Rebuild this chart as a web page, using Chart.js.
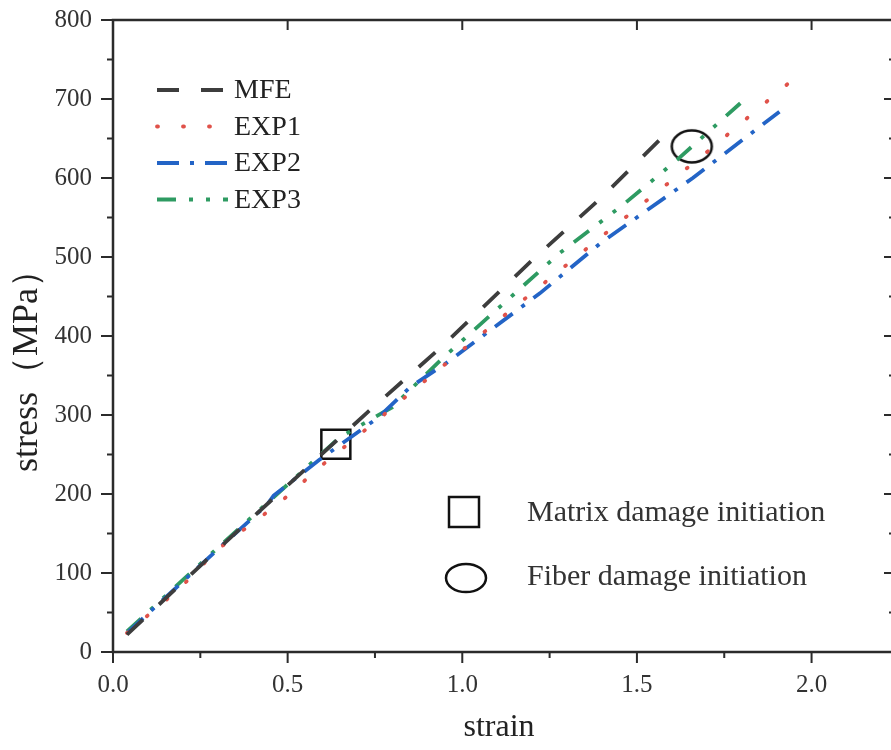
<!DOCTYPE html>
<html>
<head>
<meta charset="utf-8">
<script src="https://cdn.jsdelivr.net/npm/chart.js@4.4.1/dist/chart.umd.min.js"></script>
<style>
  html, body { margin: 0; padding: 0; background: #fff; overflow: hidden; }
  #wrap { position: relative; width: 895px; height: 750px; }
</style>
</head>
<body>
<div id="wrap"><canvas id="stressChart" width="895" height="750"></canvas></div>
<script>
// values: strain (x) and stress in MPa (y)
const mfeStrain = [0.04, 0.30, 0.73, 0.94, 1.20, 1.40, 1.585];
const mfeStress = [22, 130, 304, 386, 496, 576, 657];

const exp1Strain = [0.04, 0.19, 0.30, 0.48, 0.60, 0.78, 1.145, 1.385, 1.69, 1.934];
const exp1Stress = [24, 80, 130, 190, 237, 302, 435, 521, 629, 720];

const exp2Strain = [0.04, 0.30, 0.44, 0.46, 0.59, 0.76, 0.85, 0.955, 1.222, 1.40, 1.66, 1.908];
const exp2Stress = [24, 130, 186, 198, 243, 297, 335, 366, 454, 519, 600, 684];

const exp3Strain = [0.04, 0.30, 0.45, 0.65, 0.80, 0.944, 1.279, 1.46, 1.615, 1.797];
const exp3Stress = [26, 132, 192, 272, 310, 372, 505, 566, 623, 695];

// damage initiation markers [strain, stress]
const matrixDamage = [0.638, 263];
const fiberDamage = [1.657, 640];

const seriesNames = ['MFE', 'EXP1', 'EXP2', 'EXP3'];
const markerNames = ['Matrix damage initiation', 'Fiber damage initiation'];
const xTickValues = [0, 0.5, 1.0, 1.5, 2.0];
const yTickValues = [0, 100, 200, 300, 400, 500, 600, 700, 800];
const xTitle = 'strain';
const yTitle = 'stress（MPa）';

const FONT = '"Liberation Serif", "Times New Roman", serif';
const AXIS_COLOR = '#2b2b2b';

function toPoints(xs, ys) {
    return xs.map(function (x, i) { return { x: x, y: ys[i] }; });
}

// open ellipse used as the point style of the fiber damage marker
function ellipseMarker(w, h, lw) {
    const c = document.createElement('canvas');
    c.width = w + lw * 2;
    c.height = h + lw * 2;
    const g = c.getContext('2d');
    g.strokeStyle = '#111';
    g.lineWidth = lw;
    g.beginPath();
    g.ellipse(c.width / 2, c.height / 2, w / 2, h / 2, 0, 0, Math.PI * 2);
    g.stroke();
    return c;
}

function lineSeries(label, xs, ys, color, dash, cap) {
    return {
        label: label,
        data: toPoints(xs, ys),
        showLine: true,
        borderColor: color,
        backgroundColor: color,
        borderWidth: 3.8,
        borderDash: dash,
        borderCapStyle: cap || 'butt',
        pointRadius: 0,
        fill: false,
        tension: 0
    };
}

// frame, minor ticks, axis titles and the in-plot legends
const framePlugin = {
    id: 'frame',
    afterDraw: function (chart) {
        const ctx = chart.ctx;
        const a = chart.chartArea;
        const xs = chart.scales.x;
        const ys = chart.scales.y;

        ctx.save();
        ctx.strokeStyle = AXIS_COLOR;
        ctx.lineWidth = 2.5;
        ctx.strokeRect(a.left, a.top, a.right - a.left, a.bottom - a.top);

        ctx.lineWidth = 2;
        ctx.beginPath();
        for (let v = 0; v <= 800; v += 50) {
            const y = ys.getPixelForValue(v);
            const major = v % 100 === 0;
            ctx.moveTo(a.left, y);
            ctx.lineTo(a.left - (major ? 12 : 6), y);
            ctx.moveTo(a.right, y);
            ctx.lineTo(a.right - (major ? 10 : 5), y);
        }
        for (let v = 0; v <= 2.2; v += 0.25) {
            const x = xs.getPixelForValue(v);
            const major = Math.abs(v * 2 - Math.round(v * 2)) < 1e-6;
            ctx.moveTo(x, a.bottom);
            ctx.lineTo(x, a.bottom + (major ? 11 : 6));
            if (major) {
                ctx.moveTo(x, a.top);
                ctx.lineTo(x, a.top + 10);
            }
        }
        ctx.stroke();

        // axis titles
        ctx.fillStyle = '#222';
        ctx.textAlign = 'center';
        ctx.textBaseline = 'middle';
        ctx.font = '32px ' + FONT;
        ctx.fillText(xTitle, 499, 728);
        ctx.save();
        ctx.translate(28, 362);
        ctx.rotate(-Math.PI / 2);
        ctx.font = '36px ' + FONT;
        ctx.fillText(yTitle, 0, 0);
        ctx.restore();

        // series legend, top left
        ctx.font = '28px ' + FONT;
        ctx.textAlign = 'left';
        for (let i = 0; i < 4; i++) {
            const ds = chart.data.datasets[i];
            const y = a.top + 70 + i * 36.5;
            ctx.save();
            ctx.strokeStyle = ds.borderColor;
            ctx.lineWidth = ds.borderWidth;
            ctx.lineCap = ds.borderCapStyle;
            ctx.setLineDash(ds.borderDash);
            ctx.beginPath();
            ctx.moveTo(a.left + 44, y);
            ctx.lineTo(a.left + 115, y);
            ctx.stroke();
            ctx.restore();
            ctx.fillStyle = '#222';
            ctx.fillText(ds.label, a.left + 121, y + 1);
        }

        // damage marker legend
        ctx.strokeStyle = '#111';
        ctx.lineWidth = 2.5;
        ctx.strokeRect(a.left + 336, 497, 30, 30);
        ctx.beginPath();
        ctx.ellipse(a.left + 353, 578, 20, 14, 0, 0, Math.PI * 2);
        ctx.stroke();
        ctx.fillStyle = '#333';
        ctx.font = '30px ' + FONT;
        ctx.fillText(markerNames[0], a.left + 414, 513);
        ctx.fillText(markerNames[1], a.left + 414, 577);
        ctx.restore();
    }
};

const chartCanvas = document.getElementById('stressChart');

new Chart(chartCanvas, {
    type: 'scatter',
    data: {
        datasets: [
            lineSeries(seriesNames[0], mfeStrain, mfeStress, '#3d3d3d', [22, 22]),
            lineSeries(seriesNames[1], exp1Strain, exp1Stress, '#e0524a', [1, 25], 'round'),
            lineSeries(seriesNames[2], exp2Strain, exp2Stress, '#2364c6', [22, 11, 4, 11]),
            lineSeries(seriesNames[3], exp3Strain, exp3Stress, '#2e9b62', [19, 13, 4, 13, 4, 13]),
            {
                label: markerNames[0],
                data: [{ x: matrixDamage[0], y: matrixDamage[1] }],
                pointStyle: 'rect',
                pointRadius: 20.5,
                borderColor: '#111',
                borderWidth: 2.5,
                backgroundColor: 'rgba(0,0,0,0)'
            },
            {
                label: markerNames[1],
                data: [{ x: fiberDamage[0], y: fiberDamage[1] }],
                pointStyle: ellipseMarker(40, 32, 2.5),
                pointRadius: 20
            }
        ]
    },
    options: {
        responsive: false,
        maintainAspectRatio: false,
        animation: false,
        events: [],
        layout: { autoPadding: false, padding: { top: 20, right: 1, left: 0, bottom: 0 } },
        plugins: {
            legend: { display: false },
            tooltip: { enabled: false }
        },
        scales: {
            x: {
                type: 'linear',
                min: 0,
                max: 2.236,
                afterBuildTicks: function (s) { s.ticks = xTickValues.map(function (v) { return { value: v }; }); },
                afterFit: function (s) {
                    s.height = 98;
                    s.paddingLeft = 0;
                    s.paddingRight = 0;
                },
                grid: { display: false, drawTicks: false },
                border: { display: false },
                ticks: {
                    padding: 18,
                    color: '#333',
                    font: { family: FONT, size: 25 },
                    maxRotation: 0,
                    autoSkip: false,
                    callback: function (v) { return Number(v).toFixed(1); }
                }
            },
            y: {
                type: 'linear',
                min: 0,
                max: 800,
                afterBuildTicks: function (s) { s.ticks = yTickValues.map(function (v) { return { value: v }; }); },
                afterFit: function (s) {
                    s.width = 113;
                    s.paddingTop = 0;
                    s.paddingBottom = 0;
                },
                grid: { display: false, drawTicks: false },
                border: { display: false },
                ticks: {
                    padding: 21,
                    color: '#333',
                    font: { family: FONT, size: 25 },
                    autoSkip: false,
                    callback: function (v) { return String(v); }
                }
            }
        }
    },
    plugins: [framePlugin]
});
</script>
</body>
</html>
